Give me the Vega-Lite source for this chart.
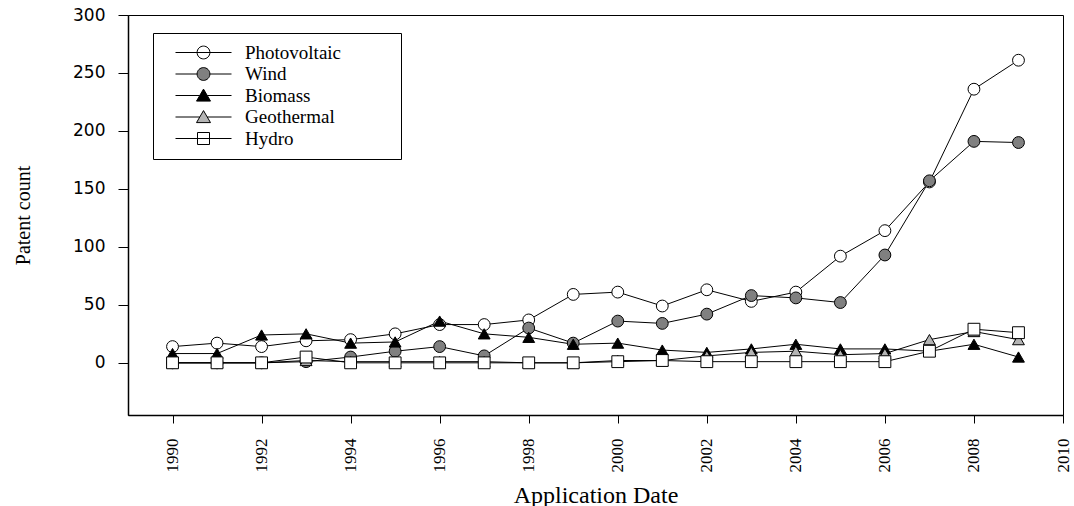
{
  "$schema": "https://vega.github.io/schema/vega-lite/v6.json",
  "width": 935,
  "height": 400,
  "autosize": "none",
  "padding": {"left": 128, "top": 15, "right": 11, "bottom": 91},
  "background": "white",
  "config": {
    "view": {"stroke": "black", "strokeWidth": 1},
    "axis": {"grid": false, "domainColor": "black", "domainWidth": 1.5, "tickColor": "black", "tickWidth": 1, "labelColor": "black", "titleColor": "black", "titleFontWeight": "normal"},
    "legend": {
      "orient": "none", "legendX": 25, "legendY": 18,
      "padding": 10, "rowPadding": 1.5, "symbolSize": 256, "symbolOffset": 31, "labelOffset": 32,
      "labelFont": "Liberation Serif", "labelFontSize": 19, "labelColor": "black",
      "strokeColor": "black", "fillColor": "white",
      "symbolStrokeWidth": 1, "symbolOpacity": 1,
      "titleOrient": "right", "titleOpacity": 0, "titlePadding": 11, "titleFont": "Liberation Serif", "titleFontSize": 18, "titleFontWeight": "normal"
    }
  },
  "data": {
    "values": [
      {"year": 1990, "series": "Photovoltaic", "value": 14}, {"year": 1991, "series": "Photovoltaic", "value": 17}, {"year": 1992, "series": "Photovoltaic", "value": 14}, {"year": 1993, "series": "Photovoltaic", "value": 19}, {"year": 1994, "series": "Photovoltaic", "value": 20}, {"year": 1995, "series": "Photovoltaic", "value": 25}, {"year": 1996, "series": "Photovoltaic", "value": 33}, {"year": 1997, "series": "Photovoltaic", "value": 33}, {"year": 1998, "series": "Photovoltaic", "value": 37}, {"year": 1999, "series": "Photovoltaic", "value": 59}, {"year": 2000, "series": "Photovoltaic", "value": 61}, {"year": 2001, "series": "Photovoltaic", "value": 49}, {"year": 2002, "series": "Photovoltaic", "value": 63}, {"year": 2003, "series": "Photovoltaic", "value": 53}, {"year": 2004, "series": "Photovoltaic", "value": 61}, {"year": 2005, "series": "Photovoltaic", "value": 92}, {"year": 2006, "series": "Photovoltaic", "value": 114}, {"year": 2007, "series": "Photovoltaic", "value": 156}, {"year": 2008, "series": "Photovoltaic", "value": 236}, {"year": 2009, "series": "Photovoltaic", "value": 261},
      {"year": 1990, "series": "Wind", "value": 0}, {"year": 1991, "series": "Wind", "value": 0}, {"year": 1992, "series": "Wind", "value": 0}, {"year": 1993, "series": "Wind", "value": 1}, {"year": 1994, "series": "Wind", "value": 5}, {"year": 1995, "series": "Wind", "value": 10}, {"year": 1996, "series": "Wind", "value": 14}, {"year": 1997, "series": "Wind", "value": 6}, {"year": 1998, "series": "Wind", "value": 30}, {"year": 1999, "series": "Wind", "value": 17}, {"year": 2000, "series": "Wind", "value": 36}, {"year": 2001, "series": "Wind", "value": 34}, {"year": 2002, "series": "Wind", "value": 42}, {"year": 2003, "series": "Wind", "value": 58}, {"year": 2004, "series": "Wind", "value": 56}, {"year": 2005, "series": "Wind", "value": 52}, {"year": 2006, "series": "Wind", "value": 93}, {"year": 2007, "series": "Wind", "value": 157}, {"year": 2008, "series": "Wind", "value": 191}, {"year": 2009, "series": "Wind", "value": 190},
      {"year": 1990, "series": "Biomass", "value": 8}, {"year": 1991, "series": "Biomass", "value": 8}, {"year": 1992, "series": "Biomass", "value": 24}, {"year": 1993, "series": "Biomass", "value": 25}, {"year": 1994, "series": "Biomass", "value": 17}, {"year": 1995, "series": "Biomass", "value": 18}, {"year": 1996, "series": "Biomass", "value": 36}, {"year": 1997, "series": "Biomass", "value": 25}, {"year": 1998, "series": "Biomass", "value": 22}, {"year": 1999, "series": "Biomass", "value": 16}, {"year": 2000, "series": "Biomass", "value": 17}, {"year": 2001, "series": "Biomass", "value": 11}, {"year": 2002, "series": "Biomass", "value": 9}, {"year": 2003, "series": "Biomass", "value": 12}, {"year": 2004, "series": "Biomass", "value": 16}, {"year": 2005, "series": "Biomass", "value": 12}, {"year": 2006, "series": "Biomass", "value": 12}, {"year": 2007, "series": "Biomass", "value": 10}, {"year": 2008, "series": "Biomass", "value": 16}, {"year": 2009, "series": "Biomass", "value": 5},
      {"year": 1990, "series": "Geothermal", "value": 0}, {"year": 1991, "series": "Geothermal", "value": 0}, {"year": 1992, "series": "Geothermal", "value": 0}, {"year": 1993, "series": "Geothermal", "value": 2}, {"year": 1994, "series": "Geothermal", "value": 1}, {"year": 1995, "series": "Geothermal", "value": 1}, {"year": 1996, "series": "Geothermal", "value": 1}, {"year": 1997, "series": "Geothermal", "value": 1}, {"year": 1998, "series": "Geothermal", "value": 0}, {"year": 1999, "series": "Geothermal", "value": 0}, {"year": 2000, "series": "Geothermal", "value": 2}, {"year": 2001, "series": "Geothermal", "value": 2}, {"year": 2002, "series": "Geothermal", "value": 6}, {"year": 2003, "series": "Geothermal", "value": 9}, {"year": 2004, "series": "Geothermal", "value": 10}, {"year": 2005, "series": "Geothermal", "value": 7}, {"year": 2006, "series": "Geothermal", "value": 8}, {"year": 2007, "series": "Geothermal", "value": 20}, {"year": 2008, "series": "Geothermal", "value": 27}, {"year": 2009, "series": "Geothermal", "value": 20},
      {"year": 1990, "series": "Hydro", "value": 0}, {"year": 1991, "series": "Hydro", "value": 0}, {"year": 1992, "series": "Hydro", "value": 0}, {"year": 1993, "series": "Hydro", "value": 5}, {"year": 1994, "series": "Hydro", "value": 0}, {"year": 1995, "series": "Hydro", "value": 0}, {"year": 1996, "series": "Hydro", "value": 0}, {"year": 1997, "series": "Hydro", "value": 0}, {"year": 1998, "series": "Hydro", "value": 0}, {"year": 1999, "series": "Hydro", "value": 0}, {"year": 2000, "series": "Hydro", "value": 1}, {"year": 2001, "series": "Hydro", "value": 2}, {"year": 2002, "series": "Hydro", "value": 1}, {"year": 2003, "series": "Hydro", "value": 1}, {"year": 2004, "series": "Hydro", "value": 1}, {"year": 2005, "series": "Hydro", "value": 1}, {"year": 2006, "series": "Hydro", "value": 1}, {"year": 2007, "series": "Hydro", "value": 10}, {"year": 2008, "series": "Hydro", "value": 29}, {"year": 2009, "series": "Hydro", "value": 26}
    ]
  },
  "encoding": {
    "x": {
      "field": "year", "type": "quantitative",
      "scale": {"domain": [1989, 2010], "nice": false, "zero": false},
      "axis": {
        "values": [1990, 1992, 1994, 1996, 1998, 2000, 2002, 2004, 2006, 2008, 2010],
        "format": "d", "labelAngle": 270, "labelAlign": "right", "labelBaseline": "middle",
        "labelFont": "Liberation Serif", "labelFontSize": 17, "labelPadding": 15, "tickSize": 8,
        "title": "Application Date", "titleFont": "Liberation Serif", "titleFontSize": 24,
        "titleBaseline": "alphabetic", "titleY": 87
      }
    },
    "y": {
      "field": "value", "type": "quantitative",
      "scale": {"domain": [-45, 300], "nice": false, "zero": false},
      "axis": {
        "values": [0, 50, 100, 150, 200, 250, 300],
        "labelFont": "DejaVu Sans", "labelFontSize": 17, "labelPadding": 13, "tickSize": 10,
        "title": "Patent count", "titleFont": "Liberation Serif", "titleFontSize": 20,
        "titleAngle": 270, "titleAlign": "center", "titleBaseline": "middle", "titleX": -105, "titleY": 200
      }
    }
  },
  "layer": [
    {
      "mark": {"type": "line", "color": "black", "strokeWidth": 1},
      "encoding": {"detail": {"field": "series", "type": "nominal"}}
    },
    {
      "mark": {"type": "point", "filled": true, "stroke": "black", "strokeWidth": 1, "size": 140, "opacity": 1},
      "encoding": {
        "shape": {"field": "series", "type": "nominal", "legend": null,
          "scale": {"domain": ["Photovoltaic", "Wind", "Biomass", "Geothermal", "Hydro"], "range": ["circle", "circle", "triangle-up", "triangle-up", "square"]}},
        "fill": {"field": "series", "type": "nominal", "legend": null,
          "scale": {"domain": ["Photovoltaic", "Wind", "Biomass", "Geothermal", "Hydro"], "range": ["#ffffff", "#808080", "#000000", "#b4b4b4", "#ffffff"]}}
      }
    },
    {
      "mark": {"type": "point", "filled": true, "stroke": "black", "strokeWidth": 1, "size": 140, "opacity": 0},
      "encoding": {
        "shape": {"field": "series", "type": "nominal",
          "scale": {"domain": ["Photovoltaic", "Wind", "Biomass", "Geothermal", "Hydro"],
            "range": [
              "M-3.5,0H3.5M-0.8,0A0.8,0.8 0 1,0 0.8,0A0.8,0.8 0 1,0 -0.8,0Z",
              "M-3.5,0H-0.8M0.8,0H3.5M-0.8,0A0.8,0.8 0 1,0 0.8,0A0.8,0.8 0 1,0 -0.8,0Z",
              "M-3.5,0H-0.47M0.47,0H3.5M0,-0.8L0.875,0.7L-0.875,0.7Z",
              "M-3.5,0H-0.47M0.47,0H3.5M0,-0.8L0.875,0.7L-0.875,0.7Z",
              "M-3.5,0H3.5M-0.75,-0.75H0.75V0.75H-0.75Z"
            ]},
          "legend": {"title": "XXX"}
        },
        "fill": {"field": "series", "type": "nominal",
          "scale": {"domain": ["Photovoltaic", "Wind", "Biomass", "Geothermal", "Hydro"], "range": ["#ffffff", "#808080", "#000000", "#b4b4b4", "#ffffff"]},
          "legend": {"title": "XXX"}
        }
      }
    }
  ],
  "resolve": {"scale": {"shape": "independent", "fill": "independent"}}
}
